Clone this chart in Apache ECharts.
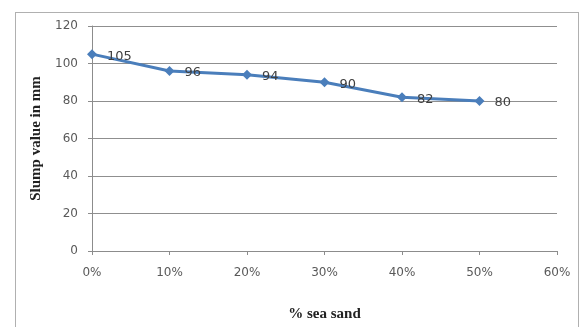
<!DOCTYPE html>
<html>
<head>
<meta charset="utf-8">
<script src="https://cdn.jsdelivr.net/npm/echarts@6/dist/echarts.min.js"></script>
<style>
  html, body { margin: 0; padding: 0; background: #ffffff; }
  #frame { position: absolute; left: 15px; top: 12px; width: 564px; height: 330px; border: 1px solid #b0b0b0; box-sizing: border-box; }
  #chart { position: absolute; left: 0; top: 0; width: 579px; height: 327px; }
</style>
</head>
<body>
<div id="frame"></div>
<div id="chart"></div>
<script>
// Sea sand replacement (%) and measured slump (mm)
const seaSandPercent = [0, 10, 20, 30, 40, 50];
const slumpValues = [105, 96, 94, 90, 82, 80];
const xTickPercents = [0, 10, 20, 30, 40, 50, 60];
const yTicks = [0, 20, 40, 60, 80, 100, 120];

const chart = echarts.init(document.getElementById('chart'), null, { renderer: 'canvas' });

chart.setOption({
  backgroundColor: 'transparent',
  animation: false,
  grid: { left: 92, right: 22, top: 26, bottom: 75, containLabel: false },
  xAxis: {
    type: 'value',
    min: xTickPercents[0],
    max: xTickPercents[xTickPercents.length - 1],
    interval: 10,
    name: '% sea sand',
    nameLocation: 'middle',
    nameGap: 56,
    nameTextStyle: { fontFamily: 'Liberation Serif', fontWeight: 'bold', fontSize: 15, color: '#222' },
    axisLine: { show: true, lineStyle: { color: '#8c8c8c', width: 1 } },
    axisTick: { show: true, length: 4, lineStyle: { color: '#8c8c8c' } },
    axisLabel: { formatter: v => v + '%', color: '#595959', fontFamily: 'DejaVu Sans', fontSize: 12, margin: 16 },
    splitLine: { show: false }
  },
  yAxis: {
    type: 'value',
    min: yTicks[0],
    max: yTicks[yTicks.length - 1],
    interval: 20,
    name: 'Slump value in mm',
    nameLocation: 'middle',
    nameGap: 48,
    nameRotate: 90,
    nameTextStyle: { fontFamily: 'Liberation Serif', fontWeight: 'bold', fontSize: 15, color: '#222' },
    axisLine: { show: true, lineStyle: { color: '#8c8c8c', width: 1 } },
    axisTick: { show: true, length: 4, lineStyle: { color: '#8c8c8c' } },
    axisLabel: { color: '#595959', fontFamily: 'DejaVu Sans', fontSize: 12, margin: 14 },
    splitLine: { show: true, lineStyle: { color: '#8f8f8f', width: 1 } }
  },
  series: [{
    type: 'line',
    data: seaSandPercent.map((p, i) => [p, slumpValues[i]]),
    symbol: 'diamond',
    symbolSize: 10,
    itemStyle: { color: '#4a7ebb' },
    lineStyle: { color: '#4a7ebb', width: 3 },
    label: {
      show: true,
      position: 'right',
      distance: 10,
      offset: [0, 2],
      color: '#404040',
      fontFamily: 'DejaVu Sans',
      fontSize: 13,
      formatter: p => p.value[1]
    }
  }]
});
</script>
</body>
</html>
